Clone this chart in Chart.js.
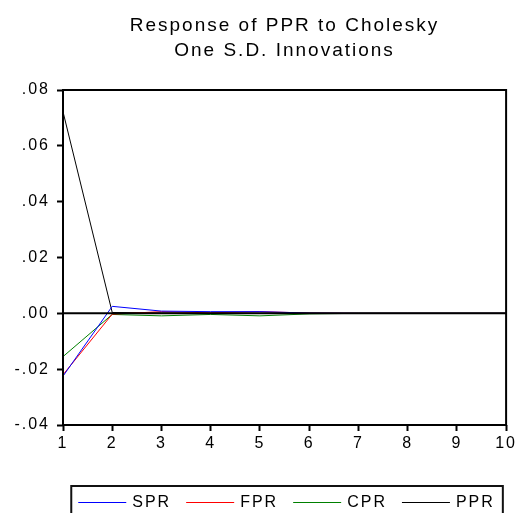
<!DOCTYPE html>
<html>
<head>
<meta charset="utf-8">
<script src="https://cdn.jsdelivr.net/npm/chart.js@4/dist/chart.umd.min.js"></script>
<style>
  html, body { margin: 0; padding: 0; background: #fff; }
  canvas { display: block; }
</style>
</head>
<body>
<canvas id="irf" width="520" height="513"></canvas>
<script>
// Impulse responses of PPR to one S.D. Cholesky shocks, periods 1-10
const periods = ['1', '2', '3', '4', '5', '6', '7', '8', '9', '10'];
const sprResponse = [-0.0225, 0.0025, 0.0008, 0.0006, 0.0006, 0.0001, 0, 0, 0, 0];
const fprResponse = [-0.0220, -0.0003, 0.0006, 0.0002, 0.0006, 0.0001, 0, 0, 0, 0];
const cprResponse = [-0.0155, -0.0004, -0.0009, -0.0004, -0.0009, -0.0002, 0, 0, 0, 0];
const pprResponse = [0.0722, 0.0003, 0.0001, 0, 0, 0, 0, 0, 0, 0];
const yTicks = { min: -0.04, max: 0.08, step: 0.02 };
const titleLines = ['Response of PPR to Cholesky', 'One S.D. Innovations'];

const FONT = '"Liberation Sans", Arial, sans-serif';
const INK = '#000';
const TRACK = '2px';

// Wider tracking for all canvas text
const tracking = {
  id: 'tracking',
  beforeLayout(chart) { chart.ctx.letterSpacing = TRACK; },
  beforeDraw(chart) { chart.ctx.letterSpacing = TRACK; }
};

// Box around the plot and the zero reference line
const frame = {
  id: 'frame',
  afterDatasetsDraw(chart) {
    const { ctx, chartArea: a, scales } = chart;
    const y0 = scales.y.getPixelForValue(0);
    ctx.save();
    ctx.strokeStyle = INK;
    ctx.lineWidth = 2;
    ctx.beginPath();
    ctx.moveTo(a.left, y0);
    ctx.lineTo(a.right, y0);
    ctx.stroke();
    ctx.strokeRect(a.left, a.top, a.right - a.left, a.bottom - a.top);
    ctx.restore();
  }
};

// Single-row boxed legend under the x axis, centred on the plot
const boxedLegend = {
  id: 'boxedLegend',
  afterDraw(chart) {
    const { ctx, chartArea: a } = chart;
    const lineW = 48, gap = 6, sep = 15, cy = 502;
    ctx.save();
    ctx.letterSpacing = TRACK;
    ctx.font = '16px ' + FONT;
    ctx.textBaseline = 'middle';
    ctx.textAlign = 'left';
    const items = chart.data.datasets.map(d => ({
      text: d.label, color: d.borderColor, w: ctx.measureText(d.label).width
    }));
    const total = items.reduce((s, it) => s + lineW + gap + it.w, 0) + sep * (items.length - 1);
    let x = (a.left + a.right) / 2 - total / 2 + 2;
    const boxLeft = x - 7, boxRight = x + total + 8, boxTop = cy - 16;
    items.forEach(it => {
      ctx.strokeStyle = it.color;
      ctx.lineWidth = 1;
      ctx.beginPath();
      ctx.moveTo(x, cy + 0.5);
      ctx.lineTo(x + lineW, cy + 0.5);
      ctx.stroke();
      ctx.fillStyle = INK;
      ctx.fillText(it.text, x + lineW + gap, cy + 1);
      x += lineW + gap + it.w + sep;
    });
    ctx.strokeStyle = '#111';
    ctx.lineWidth = 2;
    ctx.beginPath();
    ctx.moveTo(boxLeft, chart.height + 5);
    ctx.lineTo(boxLeft, boxTop);
    ctx.lineTo(boxRight, boxTop);
    ctx.lineTo(boxRight, chart.height + 5);
    ctx.stroke();
    ctx.restore();
  }
};

function series(label, data, color) {
  return {
    label, data,
    borderColor: color,
    backgroundColor: color,
    borderWidth: 1,
    pointRadius: 0,
    tension: 0,
    fill: false
  };
}

new Chart(document.getElementById('irf'), {
  type: 'line',
  data: {
    labels: periods,
    datasets: [
      series('SPR', sprResponse, '#0000ff'),
      series('FPR', fprResponse, '#ff0000'),
      series('CPR', cprResponse, '#008000'),
      series('PPR', pprResponse, '#000000')
    ]
  },
  options: {
    responsive: false,
    animation: false,
    events: [],
    layout: { padding: { left: 0, right: 10, top: 0, bottom: 0 } },
    scales: {
      x: {
        type: 'category',
        offset: false,
        border: { display: false },
        grid: { display: true, offset: false, drawOnChartArea: false, drawTicks: true, tickLength: 6, tickWidth: 2, tickColor: INK },
        ticks: { color: INK, font: { family: FONT, size: 16 }, padding: 3, maxRotation: 0, autoSkip: false },
        afterFit(scale) { scale.height = 88; }
      },
      y: {
        min: yTicks.min,
        max: yTicks.max,
        border: { display: false },
        grid: { display: true, drawOnChartArea: false, drawTicks: true, tickLength: 6, tickWidth: 2, tickColor: INK },
        ticks: {
          stepSize: yTicks.step,
          color: INK,
          font: { family: FONT, size: 16 },
          padding: 7,
          callback(v) {
            const n = Math.round(v * 100);
            if (n === 0) return '.00';
            const s = (Math.abs(n) / 100).toFixed(2).replace(/^0/, '');
            return (n < 0 ? '-' : '') + s;
          }
        },
        afterFit(scale) { scale.width = 63; }
      }
    },
    plugins: {
      title: {
        display: true,
        fullSize: false,
        text: titleLines,
        color: INK,
        font: { family: FONT, size: 19, weight: 'normal', lineHeight: 25 / 19 },
        padding: { top: 13.5, bottom: 26.5 }
      },
      legend: { display: false },
      tooltip: { enabled: false }
    }
  },
  plugins: [tracking, frame, boxedLegend]
});
</script>
</body>
</html>
